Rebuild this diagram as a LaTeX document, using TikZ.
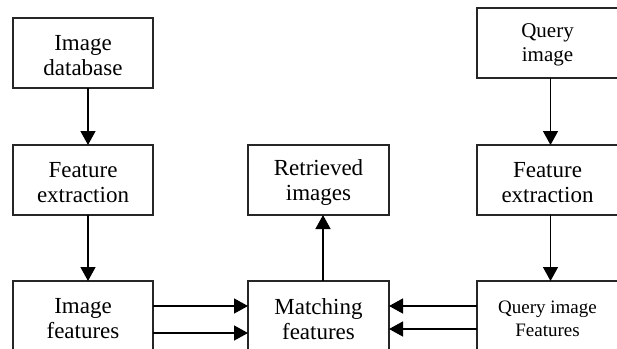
\documentclass[tikz,border=0pt]{standalone}
\usepackage{fontspec}
\setmainfont{Liberation Serif}
\usetikzlibrary{arrows.meta}
\begin{document}
\begin{tikzpicture}[x=1pt,y=-1pt,
  box/.style={draw=black!85,line width=1.4pt,minimum width=140pt,minimum height=70pt,inner sep=0pt,outer sep=0pt},
  txt/.style={inner sep=0pt,align=center,font=\fontsize{23}{25}\selectfont},
  qtxt/.style={txt,font=\fontsize{21}{24}\selectfont},
  smalltxt/.style={txt,font=\fontsize{19}{23}\selectfont},
  arr/.style={line width=1.4pt,-{Triangle[length=14pt,width=15pt]}}]
\useasboundingbox (0,0) rectangle (617,348);
\clip (0,0) rectangle (617,348);
\node[box] (db) at (83,53) {};
\node[box] (fe1) at (83,180) {};
\node[box] (imf) at (83,316) {};
\node[box,minimum width=141pt] (ret) at (318.5,180) {};
\node[box,minimum width=141pt] (mat) at (318.5,316) {};
\node[box,minimum width=141pt] (q) at (547.5,43) {};
\node[box,minimum width=141pt] (fe2) at (547.5,180) {};
\node[box,minimum width=141pt] (qf) at (547.5,316) {};
\node[txt] (dbt) at ([yshift=-3pt]db.center) {Image\\database};
\node[txt] (fe1t) at ([yshift=-3pt]fe1.center) {Feature\\extraction};
\node[txt] (imft) at ([yshift=-3pt]imf.center) {Image\\features};
\node[txt] (rett) at ([yshift=-2pt]ret.center) {Retrieved\\images};
\node[txt] (matt) at ([yshift=-3pt]mat.center) {Matching\\features};
\node[qtxt] (qt) at ([yshift=-2pt]q.center) {Query\\image};
\node[txt] (fe2t) at ([yshift=-3pt]fe2.center) {Feature\\extraction};
\node[smalltxt] (qft) at ([yshift=-3pt]qf.center) {Query image\\Features};
\draw[arr] ([xshift=5pt]db.south) -- ([xshift=5pt]fe1.north);
\draw[arr] ([xshift=5pt]fe1.south) -- ([xshift=5pt]imf.north);
\draw[arr] ([xshift=3pt]q.south) -- ([xshift=3pt]fe2.north);
\draw[arr] ([xshift=3pt]fe2.south) -- ([xshift=3pt]qf.north);
\draw[arr] ([xshift=4.5pt]mat.north) -- ([xshift=4.5pt]ret.south);
\draw[arr] ([yshift=10pt]imf.east) -- ([yshift=10pt]mat.west);
\draw[arr] ([yshift=-17pt]imf.east) -- ([yshift=-17pt]mat.west);
\draw[arr] ([yshift=10pt]qf.west) -- ([yshift=10pt]mat.east);
\draw[arr] ([yshift=-13pt]qf.west) -- ([yshift=-13pt]mat.east);
\end{tikzpicture}
\end{document}
